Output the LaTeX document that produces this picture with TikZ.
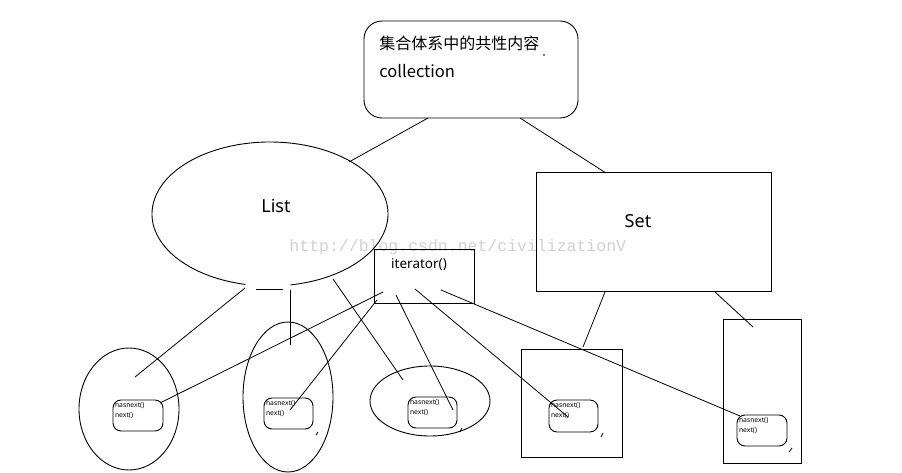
\documentclass[tikz,border=0pt]{standalone}
\usepackage{fontspec}
\setmainfont{Noto Sans}
\newfontfamily\cjk{Noto Sans CJK SC}
\newfontfamily\wmfont{Liberation Mono}
\usetikzlibrary{shapes.geometric}
\begin{document}
\begin{tikzpicture}[x=1pt,y=-1pt,line width=0.9pt,
  bigl/.style={font=\fontsize{18}{20}\selectfont, inner sep=0pt},
  toptxt/.style={font=\cjk\fontsize{16}{18}\selectfont, anchor=west, inner sep=0pt},
  hbox/.style={draw, rounded corners=8pt, inner sep=0pt},
  plainbox/.style={draw, inner sep=0pt},
  oval/.style={draw, ellipse, inner sep=0pt},
  tinytxt/.style={font=\fontsize{6.8}{7}\selectfont, anchor=west, inner sep=0pt},
  wire/.style={line width=0.8pt}]
\useasboundingbox (0,0) rectangle (902,473);
% watermark
\node[font=\wmfont\fontsize{16.5}{18}\selectfont, text=black!18, anchor=west, inner sep=0pt] (wm) at (289,247) {http://blog.csdn.net/civilizationV};

% top box
\node[draw, rounded corners=18pt, minimum width=214pt, minimum height=97pt, inner sep=0pt] (top) at (471,69.5) {};
\node[toptxt] (t1) at (379,43) {集合体系中的共性内容};
\node[toptxt, font=\cjk\fontsize{16.5}{18}\selectfont] (t2) at (379,71) {collection};
\fill (544,55) circle (0.8pt);

% List ellipse (drawn with a gap at the bottom)
\node[ellipse, minimum width=236pt, minimum height=144pt, inner sep=0pt] (list) at (270,214) {};
\coordinate (lst) at ({270+118*cos(102)},{214+72*sin(102)});
\draw (lst) arc[start angle=102, end angle=440, x radius=118, y radius=72];
\coordinate (lg1) at (256,289);
\coordinate (lg2) at (283,289);
\draw (lg1) -- (lg2);
\node[bigl] (listl) at (276,206) {List};

% Set box
\node[plainbox, minimum width=235pt, minimum height=119pt] (set) at (653.5,231.5) {};
\node[bigl] (setl) at (638,221) {Set};

% iterator box
\node[plainbox, minimum width=100pt, minimum height=54pt] (it) at (424,276) {};
\node[font=\fontsize{13.5}{15}\selectfont, inner sep=0pt] (itl) at (419,265) {iterator()};

% children containers
\node[oval, minimum width=100pt, minimum height=122pt] (c1) at (129,409) {};
\node[oval, minimum width=90pt, minimum height=150pt] (c2) at (288,397) {};
\node[oval, minimum width=120pt, minimum height=70pt] (c3) at (430,401) {};
\node[plainbox, minimum width=101pt, minimum height=108pt] (c4) at (571.5,403) {};
\node[plainbox, minimum width=78pt, minimum height=144pt] (c5) at (762,391) {};

% hasnext boxes
\node[hbox, minimum width=50pt, minimum height=31pt] (h1) at (138,415.5) {};
\node[hbox, minimum width=49pt, minimum height=31pt] (h2) at (288.5,413.5) {};
\node[hbox, minimum width=49pt, minimum height=31pt] (h3) at (432.5,412.5) {};
\node[hbox, minimum width=49pt, minimum height=32pt] (h4) at (573.5,416) {};
\node[hbox, minimum width=50pt, minimum height=31pt] (h5) at (762,430.5) {};
\foreach \b in {h1,h2,h3,h4,h5}{
  \node[tinytxt] (\b a) at ([xshift=2pt,yshift=-6pt]\b.north west) {hasnext()};
  \node[tinytxt] (\b b) at ([xshift=2pt,yshift=-16pt]\b.north west) {next()};
}

% connector end points
\coordinate (ta) at (428,118); \coordinate (la) at (349,162);
\coordinate (tb) at (520,118); \coordinate (sa) at (606,173);
\coordinate (l1) at (245,288); \coordinate (e1) at (135,377);
\coordinate (l2) at (290,290); \coordinate (e2) at (290,345);
\coordinate (l3) at (333,279); \coordinate (e3) at (403,380);
\coordinate (i1) at (383,292); \coordinate (f1) at (160,403);
\coordinate (i2) at (377,300); \coordinate (f2) at (290,410);
\coordinate (i3) at (396,295); \coordinate (f3) at (453,410);
\coordinate (i4) at (415,289); \coordinate (f4) at (568,417);
\coordinate (i5) at (441,290); \coordinate (f5) at (740,416);
\coordinate (s1) at (605,292); \coordinate (g1) at (583,347);
\coordinate (s2) at (715,292); \coordinate (g2) at (753,327);

\draw[wire] (ta) -- (la);
\draw[wire] (tb) -- (sa);
\draw[wire] (l1) -- (e1);
\draw[wire] (l2) -- (e2);
\draw[wire] (l3) -- (e3);
\draw[wire] (i1) -- (f1);
\draw[wire] (i2) -- (f2);
\draw[wire] (i3) -- (f3);
\draw[wire] (i4) -- (f4);
\draw[wire] (i5) -- (f5);
\draw[wire] (s1) -- (g1);
\draw[wire] (s2) -- (g2);

% small stray marks
\coordinate (m1a) at (318,432); \coordinate (m1b) at (316,435);
\coordinate (m2a) at (462,428); \coordinate (m2b) at (460,432);
\coordinate (m3a) at (603,433); \coordinate (m3b) at (601,437);
\coordinate (m4a) at (792,448); \coordinate (m4b) at (789,452);
\draw[wire] (m1a) -- (m1b);
\draw[wire] (m2a) -- (m2b);
\draw[wire] (m3a) -- (m3b);
\draw[wire] (m4a) -- (m4b);
\end{tikzpicture}
\end{document}
